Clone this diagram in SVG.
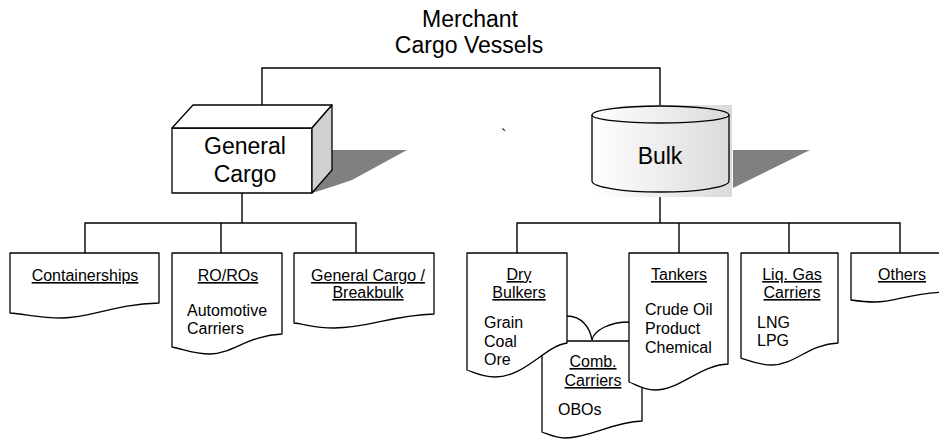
<svg xmlns="http://www.w3.org/2000/svg" width="939" height="439" viewBox="0 0 939 439">
<style>
text{font-family:"Liberation Sans",Arial,sans-serif;fill:#000}
.big{font-size:23px;text-anchor:middle}
.lbl{font-size:16px;text-anchor:middle;text-decoration:underline}
.itm{font-size:16px}
.doc{fill:#fff;stroke:#000;stroke-width:1.3;stroke-linejoin:round}
.ln{fill:none;stroke:#000;stroke-width:1.4}
.shadow{fill:#808080}
</style>
<defs>
<linearGradient id="g" gradientUnits="userSpaceOnUse" x1="592" y1="0" x2="732" y2="0">
<stop offset="0" stop-color="#ffffff"/>
<stop offset="1" stop-color="#dadada"/>
</linearGradient>
</defs>
<rect width="939" height="439" fill="#fff"/>

<g id="title">
<text class="big" x="470" y="27">Merchant</text>
<text class="big" x="469" y="53">Cargo Vessels</text>
</g>

<g id="connectors">
<path class="ln" d="M262,105 V68 H660 V106"/>
<path class="ln" d="M242,193 V223 M85,253 V223 H356 V253 M221,223 V253"/>
<path class="ln" d="M660,192 V223 M517,253 V223 H900 V253 M679,223 V253 M789,223 V253"/>
</g>

<g id="general-cargo">
<path class="shadow" d="M332,150 H407 L352,180 Q335,186 312,193 Z"/>
<rect class="doc" x="172" y="128" width="140" height="65"/>
<path class="doc" d="M172,128 L193,105 H332 L312,128 Z"/>
<path d="M312,128 L332,105 V170 L312,193 Z" fill="#d0d0d0" stroke="#000" stroke-width="1.3" stroke-linejoin="round"/>
<text class="big" x="245" y="154">General</text>
<text class="big" x="245" y="182">Cargo</text>
</g>

<text x="501" y="141" style="font-size:16px">`</text>

<g id="bulk">
<path class="shadow" d="M733,150 H810 L733,188 Z"/>
<rect x="592" y="105" width="140" height="92" fill="url(#g)"/>
<path d="M592,115 A68.5,9 0 0 1 729,115 V181 A68.5,11 0 0 1 592,181 Z" fill="url(#g)" stroke="#000" stroke-width="1.3"/>
<path class="ln" style="stroke-width:1.3" d="M592,115 A68.5,8 0 0 0 729,115"/>
<text class="big" x="660" y="164">Bulk</text>
</g>

<g id="containerships">
<path class="doc" d="M10,253 H159 V303 C114,304 92,318 62,318 C40,318 25,314 10,313 Z"/>
<text class="lbl" x="85" y="281">Containerships</text>
</g>

<g id="roros">
<path class="doc" d="M172,253 H282 V334 C249,335 232,354 210,354 C194,354 183,349 172,347 Z"/>
<text class="lbl" x="228" y="281">RO/ROs</text>
<text class="itm" x="187" y="316">Automotive</text>
<text class="itm" x="187" y="334">Carriers</text>
</g>

<g id="general-breakbulk">
<path class="doc" d="M294,253 H434 V314 C392,315 370,328 334,328 C316,328 304,324 294,323 Z"/>
<text class="lbl" x="368" y="281">General Cargo /</text>
<text class="lbl" x="368" y="298">Breakbulk</text>
</g>

<g id="comb-carriers">
<path class="doc" d="M542,341 H642 V421 C612,422 590,438 565,438 C555,438 548,434 542,432 Z"/>
<text class="lbl" x="593" y="367">Comb.</text>
<text class="lbl" x="593" y="386">Carriers</text>
<text class="itm" x="558" y="415">OBOs</text>
</g>

<g id="dry-bulkers">
<path class="doc" d="M467,253 H567 V343 C545,346 525,377 495,377 C482,377 473,372 467,370 Z"/>
<text class="lbl" x="519" y="280">Dry</text>
<text class="lbl" x="519" y="298">Bulkers</text>
<text class="itm" x="484" y="328">Grain</text>
<text class="itm" x="484" y="347">Coal</text>
<text class="itm" x="484" y="365">Ore</text>
</g>

<g id="tankers">
<path class="doc" d="M629,253 H728 V364 C700,365 680,390 655,390 C643,390 635,384 629,382 Z"/>
<text class="lbl" x="679" y="280">Tankers</text>
<text class="itm" x="645" y="315">Crude Oil</text>
<text class="itm" x="645" y="334">Product</text>
<text class="itm" x="645" y="353">Chemical</text>
</g>

<g id="comb-links">
<path class="ln" style="stroke-width:1.3" d="M567,316 C582,316 590,328 592,340 M629,322 C610,322 594,330 592,340"/>
</g>

<g id="liq-gas">
<path class="doc" d="M741,253 H838 V343 C809,344 795,365 772,365 C757,365 748,360 741,358 Z"/>
<text class="lbl" x="792" y="280">Liq. Gas</text>
<text class="lbl" x="792" y="298">Carriers</text>
<text class="itm" x="757" y="328">LNG</text>
<text class="itm" x="757" y="346">LPG</text>
</g>

<g id="others">
<path class="doc" d="M851,253 H945 V292 C910,293 895,302 875,302 C865,302 858,301 851,300 Z"/>
<text class="lbl" x="902" y="280">Others</text>
</g>
</svg>
